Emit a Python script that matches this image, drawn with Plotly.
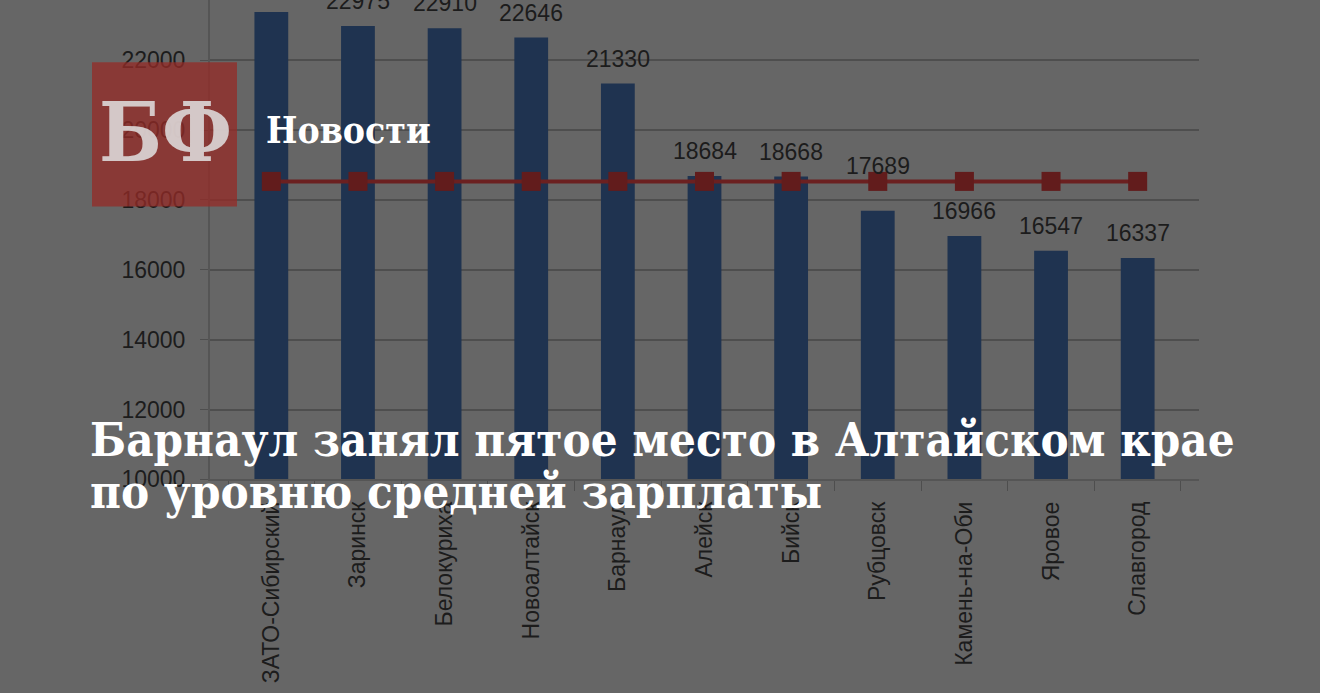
import plotly.graph_objects as go

cities = ["ЗАТО-Сибирский", "Заринск", "Белокуриха", "Новоалтайск", "Барнаул", "Алейск",
          "Бийск", "Рубцовск", "Камень-на-Оби", "Яровое", "Славгород"]
salary = [23380, 22975, 22910, 22646, 21330, 18684, 18668, 17689, 16966, 16547, 16337]
average_salary = 18530
y_ticks = [10000, 12000, 14000, 16000, 18000, 20000, 22000]

W, H = 1320, 693
# the page renders the paper a little shorter than H, so place things against this height
HP = 678
# plot box in pixels
left, right, top, bottom = 210, 1199, 0, 478


def py(px):
    return 1 - px / HP


fig = go.Figure()

fig.add_trace(go.Bar(
    x=cities, y=salary,
    marker=dict(color="#1f3350", line=dict(width=0)),
    width=0.39,
))

fig.add_trace(go.Scatter(
    x=cities, y=[average_salary] * len(cities),
    mode="lines+markers",
    line=dict(color="#6b2020", width=4),
    marker=dict(symbol="square", size=19, color="#621c1c"),
))

# value labels above the bars, lifted over the average line when they would hit it
for city, val in zip(cities, salary):
    if 0 < average_salary - val < 1000:
        anchor, shift = average_salary, 15
    else:
        anchor, shift = val, 25
    fig.add_annotation(
        x=city, y=anchor, xref="x", yref="y",
        text=str(val), showarrow=False, yshift=shift, yanchor="middle",
        font=dict(family="Liberation Sans", size=23, color="#1c1c1c"),
    )

# red logo square
fig.add_shape(
    type="rect", xref="paper", yref="paper",
    x0=92 / W, x1=237 / W, y0=py(206), y1=py(62),
    fillcolor="rgba(150,43,39,0.75)", line=dict(width=0), layer="above",
)
fig.add_annotation(
    x=165 / W, y=py(132), xref="paper", yref="paper",
    text="<b>БФ</b>", showarrow=False, xanchor="center", yanchor="middle",
    font=dict(family="DejaVu Serif Condensed", size=82, color="rgba(226,226,226,0.85)"),
)
fig.add_annotation(
    x=264 / W, y=py(130), xref="paper", yref="paper",
    text="<b>Новости</b>", showarrow=False, xanchor="left", yanchor="middle",
    font=dict(family="DejaVu Serif Condensed", size=37, color="white"),
)

title_lines = ["Барнаул занял пятое место в Алтайском крае", "по уровню средней зарплаты"]
for i, line in enumerate(title_lines):
    fig.add_annotation(
        x=88 / W, y=py(438 + 52 * i), xref="paper", yref="paper",
        text="<b>" + line + "</b>", showarrow=False, xanchor="left", yanchor="middle",
        font=dict(family="DejaVu Serif Condensed", size=47, color="white"),
    )

fig.update_layout(
    width=W, height=H,
    margin=dict(l=0, r=0, t=0, b=0),
    paper_bgcolor="#666666", plot_bgcolor="#666666",
    showlegend=False, bargap=0.6,
    xaxis=dict(
        domain=[left / W, right / W], type="category",
        tickangle=-90, ticks="outside", tickson="boundaries", ticklen=10,
        tickcolor="#4e4e4e", showline=True, linecolor="#555555", linewidth=2,
        showgrid=False, ticklabelstandoff=11,
        tickfont=dict(family="Liberation Sans", size=23, color="#1c1c1c"),
    ),
    yaxis=dict(
        domain=[py(bottom), py(top)],
        range=[10000, 23722], tickvals=y_ticks, tickformat="d",
        showgrid=True, gridcolor="#4e4e4e", gridwidth=2, zeroline=False,
        ticks="outside", ticklen=8, tickcolor="#4e4e4e",
        showline=True, linecolor="#555555", linewidth=2, ticklabelstandoff=10,
        tickfont=dict(family="Liberation Sans", size=23, color="#1c1c1c"),
    ),
)

fig.write_html("out.html", config={"displayModeBar": False},
               post_script="document.body.style.margin = '0';")
